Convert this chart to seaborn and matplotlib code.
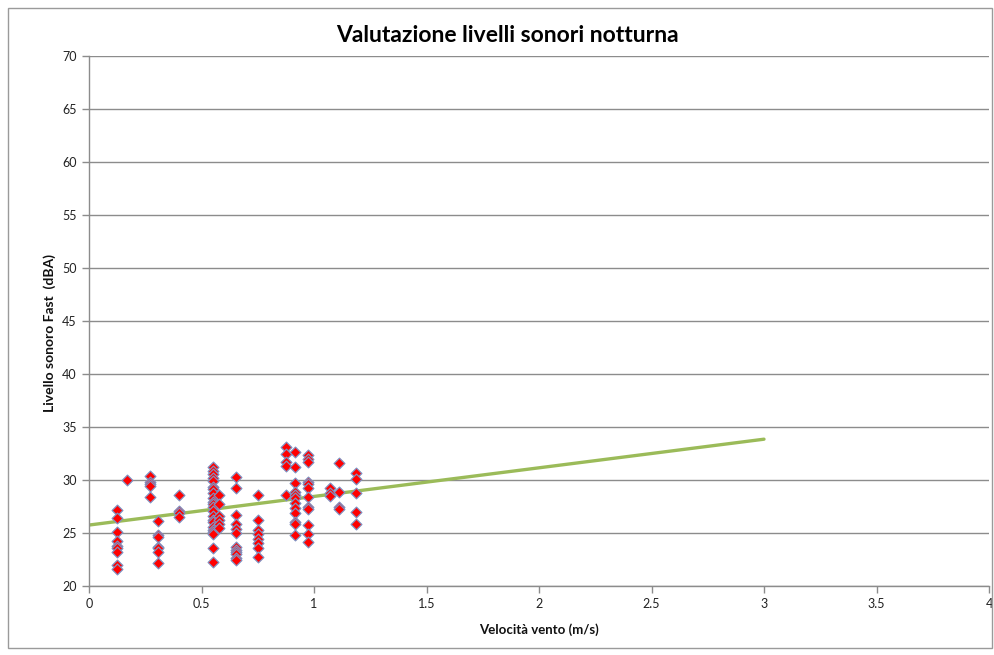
import numpy as np
import pandas as pd
import matplotlib
matplotlib.use("Agg")
import matplotlib.pyplot as plt
import seaborn as sns
from matplotlib.patches import Rectangle

# ---- data ----
wind_0_12 = [27.17, 26.39, 25.12, 24.25, 23.77, 23.56, 23.24, 21.98, 21.6]
wind_0_17 = [30.0]
wind_0_27 = [30.38, 29.84, 29.59, 29.43, 28.42]
wind_0_305 = [26.16, 24.81, 24.65, 23.7, 23.56, 23.24, 22.14]
wind_0_40 = [28.58, 27.08, 26.86, 26.54]
wind_0_55 = [31.2, 30.88, 30.54, 30.16, 29.9, 29.31, 29.12, 28.75, 28.33, 27.95,
             27.71, 27.49, 27.08, 26.6, 26.23, 26.0, 25.6, 25.28, 25.12, 24.88,
             23.56, 22.29]
wind_0_58 = [28.58, 27.71, 26.6, 26.23, 25.82, 25.5]
wind_0_65 = [30.25, 29.27, 26.7, 25.82, 25.38, 24.97, 23.71, 23.4, 23.18, 22.99,
             22.67, 22.45]
wind_0_75 = [28.58, 26.23, 25.28, 24.88, 24.43, 24.03, 23.56, 22.76]
wind_0_875 = [33.14, 32.45, 31.73, 31.32, 28.58]
wind_0_92 = [32.67, 31.2, 29.69, 28.9, 28.58, 28.27, 27.8, 27.33, 26.86, 26.07,
             25.82, 24.81]
wind_0_97 = [32.36, 31.95, 31.73, 29.84, 29.59, 29.22, 28.42, 27.49, 27.26, 25.75,
             24.88, 24.18]
wind_1_07 = [29.27, 28.75, 28.49]
wind_1_11 = [31.58, 28.9, 27.49, 27.26]
wind_1_19 = [30.63, 30.07, 28.75, 27.01, 25.82]

wind_speeds = [0.125, 0.17, 0.27, 0.305, 0.40, 0.552, 0.579, 0.652, 0.75,
               0.875, 0.915, 0.972, 1.07, 1.11, 1.185]
level_groups = [wind_0_12, wind_0_17, wind_0_27, wind_0_305, wind_0_40, wind_0_55,
                wind_0_58, wind_0_65, wind_0_75, wind_0_875, wind_0_92, wind_0_97,
                wind_1_07, wind_1_11, wind_1_19]

# Excel linear trendline (drawn forward to x = 3)
trend_range = [0.0, 3.0]
trend_intercept = 25.75
trend_slope = 2.70

x_ticks = [0, 0.5, 1, 1.5, 2, 2.5, 3, 3.5, 4]
x_tick_labels = ["0", "0.5", "1", "1.5", "2", "2.5", "3", "3.5", "4"]
y_ticks = [20, 25, 30, 35, 40, 45, 50, 55, 60, 65, 70]

title = "Valutazione livelli sonori notturna"
x_label = "Velocità vento (m/s)"
y_label = "Livello sonoro Fast  (dBA)"

# ---- build tables ----
rows = []
for ws, grp in zip(wind_speeds, level_groups):
    for v in grp:
        rows.append({"vento": ws, "livello": v})
df = pd.DataFrame(rows)

trend = pd.DataFrame({"vento": trend_range})
trend["livello"] = trend_intercept + trend_slope * trend["vento"]

# ---- plot ----
sns.set_theme(style="white")
plt.rcParams["font.family"] = ["Lato", "DejaVu Sans"]

fig = plt.figure(figsize=(9.95, 6.55), dpi=100)
ax = fig.add_axes([89 / 995, 1 - 586 / 655, 900 / 995, 530 / 655])

sns.lineplot(data=trend, x="vento", y="livello", ax=ax, color="#9BBB59",
             linewidth=2.4, zorder=2)
sns.scatterplot(data=df, x="vento", y="livello", ax=ax, marker="D", s=30,
                color="#FF0000", edgecolor="#8090C0", linewidth=0.9, zorder=3)

ax.set_xlim(0, 4)
ax.set_ylim(20, 70)
ax.set_xticks(x_ticks)
ax.set_xticklabels(x_tick_labels)
ax.set_yticks(y_ticks)
ax.yaxis.grid(True, color="#8C8C8C", linewidth=1.0)
ax.xaxis.grid(False)
ax.set_axisbelow(True)
for side in ["top", "right"]:
    ax.spines[side].set_visible(False)
for side in ["left", "bottom"]:
    ax.spines[side].set_color("#8C8C8C")
    ax.spines[side].set_linewidth(1.0)
ax.tick_params(axis="both", which="major", direction="out", length=5, width=1,
               color="#8C8C8C", labelsize=9, labelcolor="#222222", pad=4,
               left=True, bottom=True)

ax.set_xlabel(x_label, fontsize=9.5, fontweight="bold", labelpad=9, color="#111111")
ax.set_ylabel(y_label, fontsize=10, fontweight="bold", color="#111111",
              va="center", ha="center")
ax.yaxis.set_label_coords(-0.044, 0.478)

fig.text(507 / 995, 1 - 35 / 655, title, ha="center", va="center",
         fontsize=16.5, fontweight="bold", color="#000000")

fig.patches.append(Rectangle((8 / 995, 1 - 648 / 655), 984 / 995, 640 / 655,
                             transform=fig.transFigure, fill=False,
                             edgecolor="#9A9A9A", linewidth=1.0))

fig.savefig("out.png", dpi=100, facecolor="white")
